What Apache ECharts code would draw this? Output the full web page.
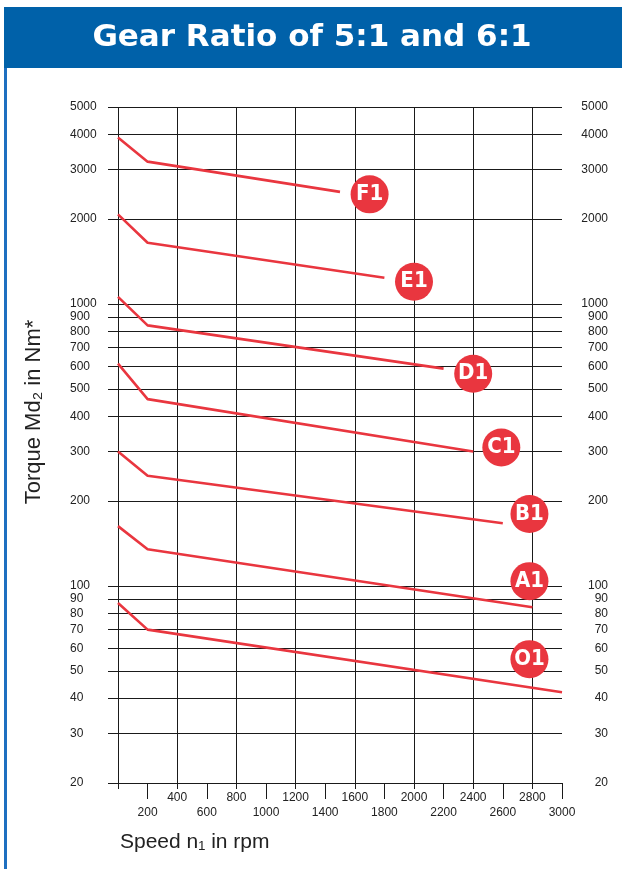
<!DOCTYPE html>
<html><head><meta charset="utf-8">
<script src="https://cdn.jsdelivr.net/npm/echarts@6/dist/echarts.min.js"></script>
<style>html,body{margin:0;padding:0;background:#fff}#c{width:622px;height:869px}</style>
</head><body><div id="c"></div>
<script>
// ---- data ----
const yTickValues = [20,30,40,50,60,70,80,90,100,200,300,400,500,600,700,800,900,1000,2000,3000,4000,5000];
const xShortTicks = [0,400,800,1200,1600,2000,2400,2800];
const xUpperLabels = [400,800,1200,1600,2000,2400,2800];
const xLowerLabels = [200,600,1000,1400,1800,2200,2600,3000];

const seriesNames = ['F1','E1','D1','C1','B1','A1','O1'];
const F1 = [[0,3900],[200,3200],[1500,2500]];
const E1 = [[0,2080],[200,1650],[1800,1240]];
const D1 = [[0,1060],[200,840],[2200,590]];
const C1 = [[0,615],[200,460],[2400,300]];
const B1 = [[0,300],[200,246],[2600,167]];
const A1 = [[0,163],[200,135],[2800,84]];
const O1 = [[0,87],[200,70],[3000,42]];
const seriesData = [F1,E1,D1,C1,B1,A1,O1];
// badge positions (data coords)
const badges = [[1700,2450,'F1'],[2000,1200,'E1'],[2400,566,'D1'],[2590,310,'C1'],[2780,180,'B1'],[2780,104,'A1'],[2780,55,'O1']];

const RED = '#E9363F';
const FONT = "'Liberation Sans', Arial, Helvetica, sans-serif";
const chart = echarts.init(document.getElementById('c'), null, {renderer:'canvas'});

const lineSeries = seriesData.map((d,i)=>({
  name: seriesNames[i], type:'line', data:d, symbol:'none', silent:true,
  lineStyle:{color:RED, width:2.6}, z:3
}));

const gridLine = {show:true, lineStyle:{color:'#1a1a1a', width:1}};
const plain = v => String(v);

chart.setOption({
  animation:false,
  backgroundColor:'#fff',
  grid:{left:118, right:60, top:107, bottom:86},
  xAxis:[
    {type:'value', min:0, max:3000, interval:200, position:'bottom',
     axisLine:{show:false},
     splitLine:gridLine,
     axisTick:{show:true, customValues:xShortTicks, length:6, lineStyle:{color:'#1a1a1a'}},
     axisLabel:{customValues:xUpperLabels, formatter:plain, margin:9, color:'#222', fontSize:12, fontFamily:FONT}
    },
    {type:'value', min:0, max:3000, position:'bottom',
     axisLine:{show:false}, splitLine:{show:false},
     axisTick:{show:true, customValues:xLowerLabels, length:16, lineStyle:{color:'#1a1a1a'}},
     axisLabel:{customValues:xLowerLabels, formatter:plain, margin:24, color:'#222', fontSize:12, fontFamily:FONT}
    }
  ],
  yAxis:[
    {type:'log', min:20, max:5000, position:'left', logBase:10,
     axisLine:{show:false},
     splitLine:gridLine,
     axisTick:{show:true, customValues:yTickValues, length:10, lineStyle:{color:'#1a1a1a'}},
     axisLabel:{customValues:yTickValues, formatter:plain, margin:48, align:'left', color:'#222', fontSize:12, fontFamily:FONT}
    },
    {type:'log', min:20, max:5000, position:'right', logBase:10,
     axisLine:{show:false}, splitLine:{show:false},
     axisTick:{show:true, customValues:yTickValues, length:10, lineStyle:{color:'#1a1a1a'}},
     axisLabel:{customValues:yTickValues, formatter:plain, margin:46, align:'right', color:'#222', fontSize:12, fontFamily:FONT}
    }
  ],
  series: lineSeries.concat([{
    type:'scatter', data:badges, symbol:'circle', symbolSize:38, silent:true, z:5,
    itemStyle:{color:RED, opacity:1},
    label:{show:true, position:'inside', formatter:p=>p.data[2], color:'#fff',
      fontSize:22, fontWeight:'bold', fontFamily:"'DejaVu Sans Condensed','Liberation Sans Narrow',sans-serif"}
  }]),
  graphic:[
    {type:'rect', shape:{x:4, y:7, width:618, height:61}, style:{fill:'#0061A9'}, z:10},
    {type:'rect', shape:{x:4, y:68, width:3, height:801}, style:{fill:'#1E6FC0'}, z:10},
    {type:'text', x:312, y:38, style:{text:'Gear Ratio of 5:1 and 6:1', fill:'#fff', font:"bold 31px 'DejaVu Sans', sans-serif", align:'center', verticalAlign:'middle'}, z:11},
    {type:'text', x:34, y:412, rotation:Math.PI/2, style:{text:'Torque Md₂ in Nm*', fill:'#222', font:"22px 'Liberation Sans', Arial, sans-serif", align:'center', verticalAlign:'middle'}, z:11},
    {type:'text', x:120, y:842, style:{text:'Speed n₁ in rpm', fill:'#222', font:"21px 'Liberation Sans', Arial, sans-serif", align:'left', verticalAlign:'middle'}, z:11}
  ]
});
</script></body></html>
